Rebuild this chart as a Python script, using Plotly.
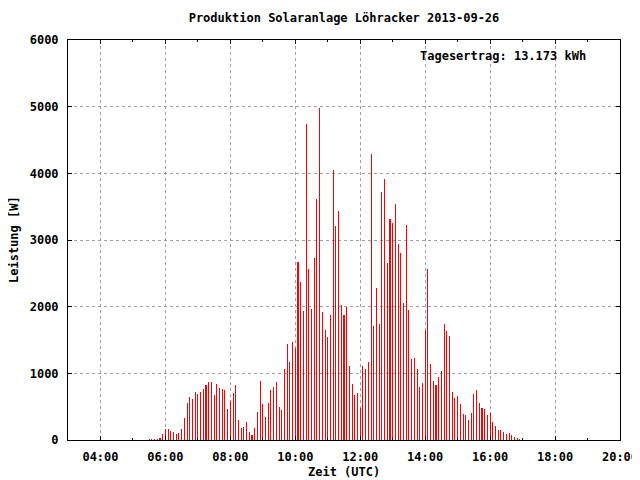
import plotly.graph_objects as go

DATE = "2013-09-26"
TITLE = "Produktion Solaranlage Löhracker 2013-09-26"
YIELD_TEXT = "Tagesertrag: 13.173 kWh"

# 5-minute samples (UTC)
times = [
    "05:30", "05:35", "05:40", "05:45", "05:50", "05:55",
    "06:00", "06:05", "06:10", "06:15", "06:20", "06:25", "06:30", "06:35", "06:40", "06:45", "06:50", "06:55",
    "07:00", "07:05", "07:10", "07:15", "07:20", "07:25", "07:30", "07:35", "07:40", "07:45", "07:50", "07:55",
    "08:00", "08:05", "08:10", "08:15", "08:20", "08:25", "08:30", "08:35", "08:40", "08:45", "08:50", "08:55",
    "09:00", "09:05", "09:10", "09:15", "09:20", "09:25", "09:30", "09:35", "09:40", "09:45", "09:50", "09:55",
    "10:00", "10:05", "10:10", "10:15", "10:20", "10:25", "10:30", "10:35", "10:40", "10:45", "10:50", "10:55",
    "11:00", "11:05", "11:10", "11:15", "11:20", "11:25", "11:30", "11:35", "11:40", "11:45", "11:50", "11:55",
    "12:00", "12:05", "12:10", "12:15", "12:20", "12:25", "12:30", "12:35", "12:40", "12:45", "12:50", "12:55",
    "13:00", "13:05", "13:10", "13:15", "13:20", "13:25", "13:30", "13:35", "13:40", "13:45", "13:50", "13:55",
    "14:00", "14:05", "14:10", "14:15", "14:20", "14:25", "14:30", "14:35", "14:40", "14:45", "14:50", "14:55",
    "15:00", "15:05", "15:10", "15:15", "15:20", "15:25", "15:30", "15:35", "15:40", "15:45", "15:50", "15:55",
    "16:00", "16:05", "16:10", "16:15", "16:20", "16:25", "16:30", "16:35", "16:40", "16:45", "16:50", "16:55",
]

power_w = [
    15, 15, 15, 15, 30, 90,
    160, 165, 140, 120, 90, 105, 165, 330, 555, 645, 615, 720,
    690, 720, 765, 825, 870, 870, 675, 840, 780, 765, 750, 465,
    585, 705, 825, 300, 180, 195, 270, 120, 75, 180, 420, 885,
    540, 345, 555, 750, 795, 870, 495, 450, 1065, 1440, 1170, 1470,
    1380, 2670, 2370, 1935, 4740, 2565, 1965, 2730, 3620, 4975, 1920, 1650,
    1545, 1875, 4050, 3205, 3440, 2025, 1875, 2000, 1110, 840, 675, 705,
    480, 1110, 1065, 1170, 4295, 1710, 2275, 1740, 3725, 3920, 2650, 3320,
    3250, 3545, 2935, 2800, 2055, 3220, 1950, 1215, 1230, 1065, 800, 855,
    1650, 2560, 1140, 885, 825, 945, 1035, 1740, 1635, 1560, 720, 630,
    660, 540, 390, 375, 300, 405, 690, 750, 555, 480, 465, 375,
    405, 270, 210, 150, 150, 120, 90, 105, 75, 45, 30, 15,
]

x_vals = [f"{DATE} {t}" for t in times]

FONT = dict(family="DejaVu Sans Mono", size=12, color="black", weight="bold")
GRID = "#a0a0a0"

# page has an 8px body margin, so the figure is sized to fit the 640x480 window
FIG_W, FIG_H = 632, 472
ML, MR, MT, MB = 60, 20, 32, 40
PLOT_W = FIG_W - ML - MR
PLOT_H = FIG_H - MT - MB
ONE_PX_MS = 17 * 3600 * 1000 / PLOT_W

fig = go.Figure()
fig.add_trace(go.Bar(
    x=x_vals, y=power_w,
    width=ONE_PX_MS * 0.05,   # sub-pixel width -> plotly expands to a 1px impulse
    marker=dict(color="#ff0000", line=dict(width=0)),
    hoverinfo="x+y",
))

fig.update_layout(
    width=FIG_W, height=FIG_H,
    margin=dict(l=ML, r=MR, t=MT, b=MB, autoexpand=False),
    paper_bgcolor="white", plot_bgcolor="white",
    showlegend=False,
    font=FONT,
    bargap=0,
    title=dict(text=TITLE, x=0.5, xref="paper", xanchor="center",
               y=1 - 10 / FIG_H, yref="container", yanchor="middle", font=FONT),
    xaxis=dict(
        type="date",
        automargin=False,
        range=[f"{DATE} 03:00", f"{DATE} 20:00"],
        tick0=f"{DATE} 04:00", dtick=2 * 3600 * 1000,
        tickformat="%H:%M",
        ticks="inside", ticklen=4, tickwidth=1, tickcolor="black",
        showline=True, linecolor="black", linewidth=1, mirror="ticks",
        showgrid=True, gridcolor=GRID, griddash="3px,3px", gridwidth=1,
        ticklabelstandoff=6,
        tickfont=FONT,
        minor=dict(tick0=f"{DATE} 03:00", dtick=3600 * 1000, ticks="inside",
                   ticklen=2, tickcolor="black", showgrid=False),
    ),
    yaxis=dict(
        automargin=False,
        range=[0, 6000], dtick=1000,
        ticks="inside", ticklen=4, tickwidth=1, tickcolor="black",
        showline=True, linecolor="black", linewidth=1, mirror="ticks",
        showgrid=True, gridcolor=GRID, griddash="3px,3px", gridwidth=1,
        zeroline=False,
        ticklabelstandoff=6,
        tickfont=FONT,
    ),
    annotations=[
        dict(text="Zeit (UTC)", xref="paper", yref="paper", x=0.5, y=0,
             yshift=-32, xanchor="center", yanchor="middle", showarrow=False, font=FONT),
        dict(text="Leistung [W]", xref="paper", yref="paper", x=(14 - 68) / PLOT_W, y=0.5,
             textangle=-90, xanchor="center", yanchor="middle", showarrow=False, font=FONT),
        dict(text=YIELD_TEXT, xref="paper", yref="paper", x=(588 - 68) / PLOT_W,
             y=1 - 16 / PLOT_H, xanchor="right", yanchor="middle", showarrow=False, font=FONT),
    ],
)

fig.write_html("out.html")
